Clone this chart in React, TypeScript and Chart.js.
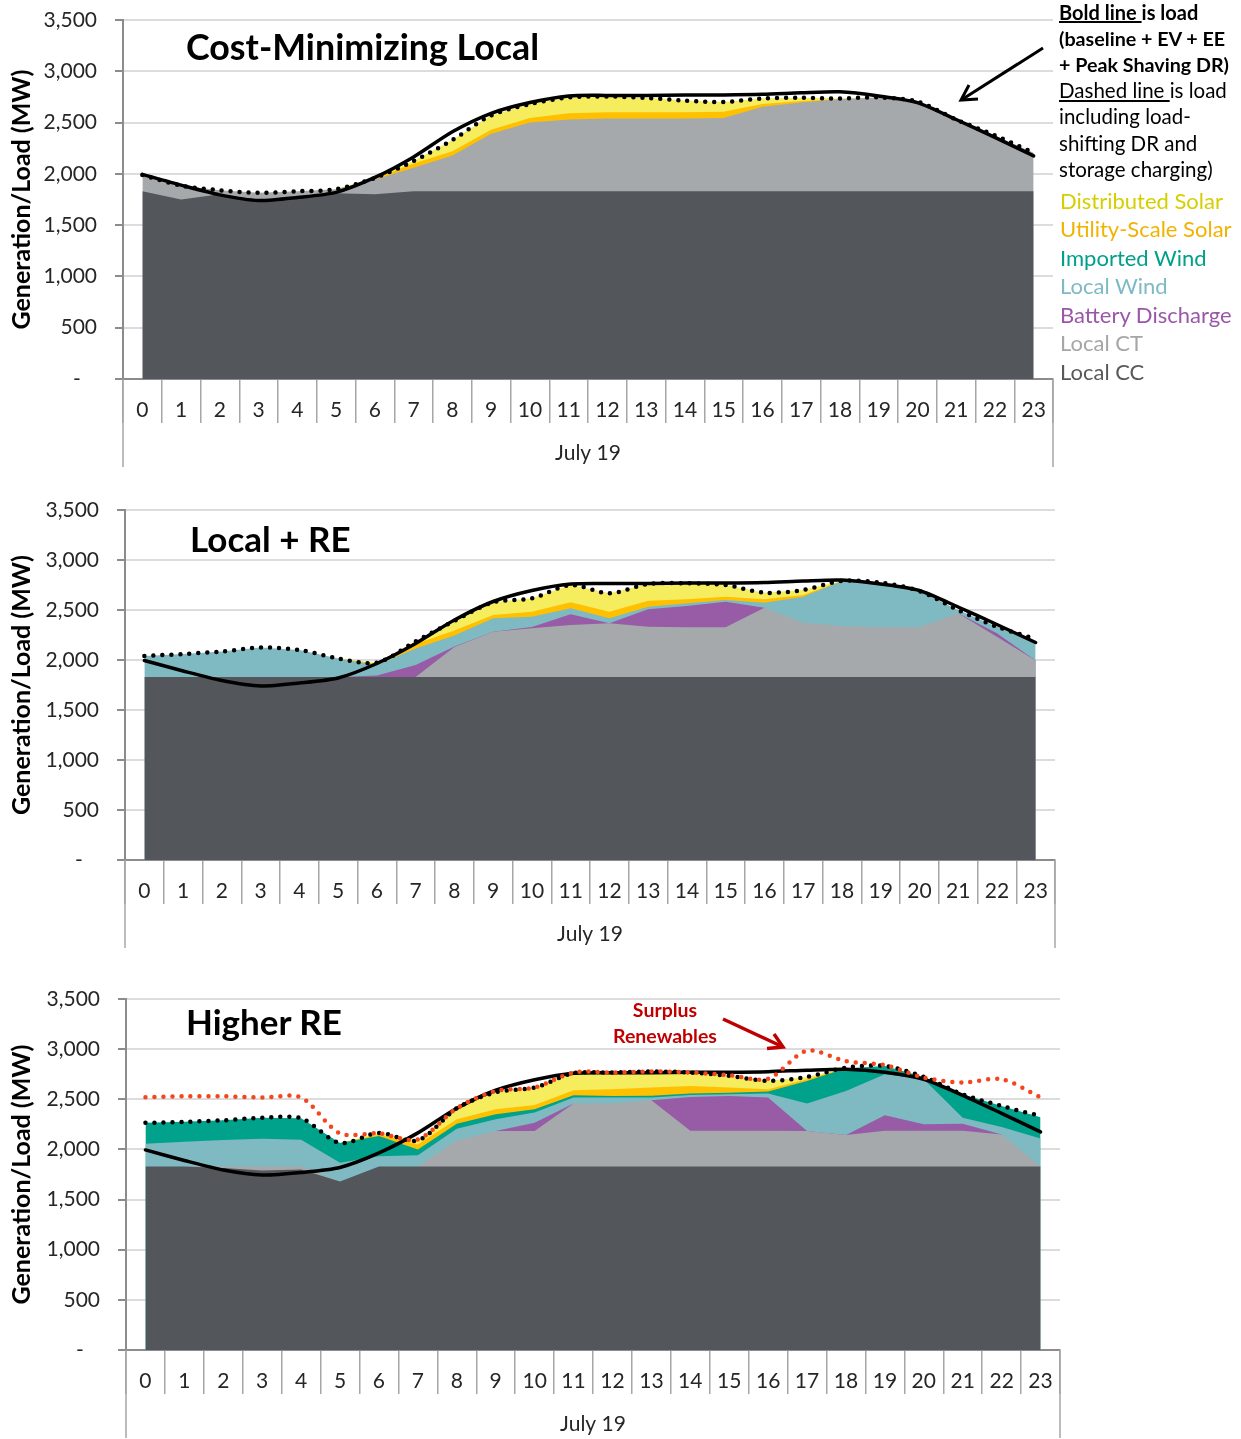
import React, { useEffect, useRef } from 'react';
import { Chart, registerables } from 'chart.js';

Chart.register(...registerables);
Chart.defaults.font.family = 'Lato';

// ---------- data ----------
const HOURS = ['0', '1', '2', '3', '4', '5', '6', '7', '8', '9', '10', '11', '12', '13', '14', '15', '16', '17', '18', '19', '20', '21', '22', '23'];
const Y_TICKS = [0, 500, 1000, 1500, 2000, 2500, 3000, 3500];
const X_TITLE = 'July 19';

// Panel 1: Cost-Minimizing Local
const P1_LOCAL_CC = [1830, 1750, 1800, 1745, 1770, 1810, 1800, 1830, 1830, 1830, 1830, 1830, 1830, 1830, 1830, 1830, 1830, 1830, 1830, 1830, 1830, 1830, 1830, 1830];
const P1_LOCAL_CT = [160, 135, 40, 70, 60, 40, 145, 230, 350, 560, 670, 700, 710, 710, 710, 715, 825, 865, 900, 915, 875, 700, 545, 375];
const P1_BATTERY = [0, 0, 0, 0, 0, 0, 0, 0, 0, 0, 0, 0, 0, 0, 0, 0, 0, 0, 0, 0, 0, 0, 0, 0];
const P1_LOCAL_WIND = [0, 0, 0, 0, 0, 0, 0, 0, 0, 0, 0, 0, 0, 0, 0, 0, 0, 0, 0, 0, 0, 0, 0, 0];
const P1_IMPORTED_WIND = [0, 0, 0, 0, 0, 0, 0, 0, 0, 0, 0, 0, 0, 0, 0, 0, 0, 0, 0, 0, 0, 0, 0, 0];
const P1_UTILITY_SOLAR = [0, 0, 0, 0, 0, 0, 10, 40, 40, 40, 45, 60, 60, 60, 60, 60, 25, 15, 0, 0, 0, 0, 0, 0];
const P1_DIST_SOLAR = [0, 0, 0, 0, 0, 0, 5, 25, 110, 140, 135, 155, 155, 140, 115, 95, 55, 32, 5, 0, 0, 0, 0, 0];
const P1_LOAD = [1995, 1890, 1795, 1740, 1770, 1820, 1965, 2165, 2410, 2590, 2695, 2760, 2765, 2765, 2770, 2770, 2775, 2790, 2800, 2760, 2695, 2530, 2355, 2175];
const P1_LOAD_SHIFTED = [1990, 1885, 1840, 1815, 1830, 1850, 1960, 2125, 2330, 2570, 2680, 2745, 2755, 2740, 2715, 2700, 2735, 2742, 2735, 2745, 2705, 2530, 2375, 2205];

// Panel 2: Local + RE
const P2_LOCAL_CC = [1830, 1830, 1830, 1830, 1830, 1830, 1830, 1830, 1830, 1830, 1830, 1830, 1830, 1830, 1830, 1830, 1830, 1830, 1830, 1830, 1830, 1830, 1830, 1830];
const P2_LOCAL_CT = [0, 0, 0, 0, 0, 0, 0, 0, 300, 453, 487, 520, 537, 503, 497, 497, 693, 543, 510, 497, 497, 637, 403, 165];
const P2_BATTERY = [0, 0, 0, 0, 0, 0, 15, 120, 5, 0, 13, 107, 0, 174, 213, 256, 0, 0, 0, 0, 0, 0, 34, 0];
const P2_LOCAL_WIND = [210, 230, 255, 295, 270, 185, 105, 165, 110, 134, 103, 60, 50, 26, 27, 17, 50, 260, 450, 446, 363, 33, 66, 175];
const P2_IMPORTED_WIND = [0, 0, 0, 0, 0, 0, 0, 0, 0, 0, 0, 0, 0, 0, 0, 0, 0, 0, 0, 0, 0, 0, 0, 0];
const P2_UTILITY_SOLAR = [0, 0, 0, 0, 0, 0, 10, 45, 50, 33, 50, 60, 66, 60, 40, 33, 34, 17, 0, 0, 0, 0, 0, 0];
const P2_DIST_SOLAR = [0, 0, 0, 0, 0, 0, 13, 25, 95, 127, 134, 173, 184, 167, 160, 117, 66, 50, 0, 0, 0, 0, 0, 0];
const P2_LOAD = [1995, 1890, 1795, 1740, 1770, 1820, 1965, 2165, 2400, 2585, 2695, 2760, 2765, 2765, 2770, 2770, 2775, 2790, 2800, 2760, 2695, 2530, 2355, 2175];
const P2_LOAD_SHIFTED = [2040, 2060, 2085, 2125, 2100, 2015, 1973, 2185, 2390, 2577, 2617, 2750, 2667, 2760, 2767, 2750, 2673, 2700, 2790, 2773, 2690, 2500, 2333, 2210];

// Panel 3: Higher RE
const P3_LOCAL_CC = [1830, 1830, 1815, 1790, 1800, 1680, 1830, 1830, 1830, 1830, 1830, 1830, 1830, 1830, 1830, 1830, 1830, 1830, 1830, 1830, 1830, 1830, 1830, 1830];
const P3_LOCAL_CT = [0, 0, 15, 40, 30, 0, 0, 0, 260, 353, 353, 627, 627, 660, 357, 357, 357, 353, 313, 357, 357, 357, 320, 0];
const P3_BATTERY = [0, 0, 0, 0, 0, 0, 0, 0, 0, 0, 84, 0, 0, 0, 336, 346, 330, 0, 0, 153, 63, 70, 0, 0];
const P3_LOCAL_WIND = [227, 247, 263, 277, 267, 187, 103, 113, 117, 117, 100, 60, 60, 27, 20, 17, 40, 274, 440, 410, 450, 60, 73, 280];
const P3_IMPORTED_WIND = [208, 198, 197, 208, 213, 198, 200, 57, 50, 50, 33, 23, 16, 18, 14, 15, 20, 226, 227, 83, 23, 233, 210, 210];
const P3_UTILITY_SOLAR = [0, 0, 0, 0, 0, 0, 17, 50, 43, 50, 43, 50, 67, 82, 76, 52, 23, 17, 0, 0, 0, 0, 0, 0];
const P3_DIST_SOLAR = [0, 0, 0, 0, 0, 0, 15, 40, 110, 170, 174, 170, 167, 160, 134, 116, 83, 23, 0, 0, 0, 0, 0, 0];
const P3_LOAD = [1995, 1890, 1795, 1745, 1770, 1820, 1965, 2165, 2410, 2590, 2695, 2760, 2765, 2765, 2770, 2770, 2775, 2790, 2800, 2770, 2700, 2540, 2360, 2175];
const P3_LOAD_SHIFTED = [2265, 2275, 2290, 2315, 2310, 2065, 2165, 2090, 2410, 2570, 2617, 2760, 2767, 2777, 2767, 2733, 2683, 2723, 2815, 2833, 2723, 2550, 2433, 2333];
const P3_SURPLUS = [2520, 2530, 2530, 2517, 2517, 2160, 2160, 2100, 2410, 2583, 2617, 2767, 2767, 2777, 2767, 2740, 2705, 2985, 2880, 2840, 2717, 2667, 2700, 2520];

// ---------- styles ----------
const C_CC = '#53575b';
const C_CT = '#a6a9ac';
const C_BATT = '#985ba6';
const C_LWIND = '#7fb9c2';
const C_IWIND = '#00a28b';
const C_USOLAR = '#ffc000';
const C_DSOLAR = '#f5ec5e';
const FONT = 'Lato';

type Series = {
  cc: number[]; ct: number[]; batt: number[]; lwind: number[]; iwind: number[];
  usolar: number[]; dsolar: number[]; load: number[]; shifted: number[]; surplus?: number[];
};

// A layer is hidden (null) at hours where it and both neighbours are zero,
// so empty layers do not paint anti-aliased slivers along other edges.
function maskEmpty(data: number[]): (number | null)[] {
  return data.map((v, i) => {
    const prev = i > 0 ? data[i - 1] : 0;
    const next = i < data.length - 1 ? data[i + 1] : 0;
    return v === 0 && prev === 0 && next === 0 ? null : v;
  });
}

function buildDatasets(s: Series): any[] {
  const layers: [string, number[], string][] = [
    ['Local CC', s.cc, C_CC],
    ['Local CT', s.ct, C_CT],
    ['Battery Discharge', s.batt, C_BATT],
    ['Local Wind', s.lwind, C_LWIND],
    ['Imported Wind', s.iwind, C_IWIND],
    ['Utility-Scale Solar', s.usolar, C_USOLAR],
    ['Distributed Solar', s.dsolar, C_DSOLAR],
  ];
  // Every stacked layer fills down to the origin; layers are painted top-first,
  // so each lower layer covers the one above it (no seams between areas).
  const ds: any[] = layers.map(([label, data, color]) => ({
    type: 'line',
    label,
    data: maskEmpty(data),
    backgroundColor: color,
    borderColor: 'rgba(0,0,0,0)',
    borderWidth: 0,
    pointRadius: 0,
    fill: 'origin',
    stack: 'generation',
    order: 10,
    tension: 0,
    spanGaps: false,
  }));
  ds.push({
    type: 'line', label: 'Load', data: s.load, borderColor: '#000000', borderWidth: 3.5,
    pointRadius: 0, fill: false, stack: 'load', order: 3, tension: 0.25, borderCapStyle: 'round', borderJoinStyle: 'round',
  });
  ds.push({
    type: 'line', label: 'Load incl. shifting', data: s.shifted, borderColor: '#000000', borderWidth: 4.5,
    borderDash: [0, 9], borderCapStyle: 'round', pointRadius: 0, fill: false, stack: 'shifted', order: 2, tension: 0.3,
  });
  if (s.surplus) {
    ds.push({
      type: 'line', label: 'Surplus Renewables', data: s.surplus, borderColor: '#f4461c', borderWidth: 4.5,
      borderDash: [0, 9], borderCapStyle: 'round', pointRadius: 0, fill: false, stack: 'surplus', order: 1, tension: 0.3,
    });
  }
  return ds;
}

const outerLines = {
  id: 'outerLines',
  afterDraw(chart: any) {
    const { ctx, chartArea } = chart;
    ctx.save();
    ctx.strokeStyle = '#a6a6a6';
    ctx.lineWidth = 1.5;
    ctx.beginPath();
    [chartArea.left, chartArea.right].forEach((x: number) => {
      ctx.moveTo(x, chartArea.bottom);
      ctx.lineTo(x, chartArea.bottom + 88);
    });
    ctx.stroke();
    ctx.restore();
  },
};

type PanelProps = {
  top: number; height: number; plotLeft: number; plotRight: number;
  plotTop: number; plotBottom: number; xTitlePad: number; series: Series;
};

function Panel(p: PanelProps) {
  const ref = useRef<HTMLCanvasElement>(null);
  useEffect(() => {
    const canvas = ref.current;
    if (!canvas) return;
    const chart = new Chart(canvas, {
      type: 'line',
      data: { labels: HOURS, datasets: buildDatasets(p.series) },
      plugins: [outerLines],
      options: {
        responsive: false,
        animation: false,
        devicePixelRatio: 1,
        events: [],
        layout: { padding: { top: p.plotTop, right: 1241 - p.plotRight, bottom: 0, left: 0 } },
        plugins: { legend: { display: false }, tooltip: { enabled: false } },
        scales: {
          x: {
            type: 'category',
            offset: true,
            grid: { display: true, offset: true, drawOnChartArea: false, drawTicks: true, tickLength: 44, color: '#a6a6a6', lineWidth: 1.5 },
            border: { display: true, color: '#8c8c8c', width: 2 },
            ticks: { padding: -25, autoSkip: false, maxRotation: 0, color: '#262626', font: { family: FONT, size: 21 } },
            title: { display: true, text: X_TITLE, color: '#262626', font: { family: FONT, size: 21 }, padding: { top: 0, bottom: p.xTitlePad } },
            afterFit: (s: any) => { s.height = p.height - p.plotBottom; s.paddingLeft = 0; s.paddingRight = 0; },
          },
          y: {
            stacked: true,
            min: 0,
            max: 3500,
            afterBuildTicks: (s: any) => { s.ticks = Y_TICKS.map((v) => ({ value: v })); },
            grid: { color: '#dcdcdc', lineWidth: 2, drawTicks: true, tickLength: 8, tickColor: '#8c8c8c' },
            border: { display: true, color: '#8c8c8c', width: 2 },
            ticks: {
              padding: 18,
              color: '#262626',
              font: { family: FONT, size: 21 },
              callback: (v: any) => (Number(v) === 0 ? '-   ' : Number(v).toLocaleString('en-US')),
            },
            title: { display: true, text: 'Generation/Load (MW)', color: '#000', font: { family: FONT, size: 25, weight: 'bold' }, padding: { top: 7, bottom: 0 } },
            afterFit: (s: any) => { s.width = p.plotLeft; s.paddingTop = 0; s.paddingBottom = 0; },
          },
        },
      } as any,
    });
    return () => chart.destroy();
  }, []);
  return (
    <canvas
      ref={ref}
      width={1241}
      height={p.height}
      style={{ position: 'absolute', left: 0, top: p.top, width: 1241, height: p.height, display: 'block' }}
    />
  );
}

function txt(left: number, cy: number, size: number, weight: any, color: string, extra: any = {}): React.CSSProperties {
  return {
    position: 'absolute', left, top: cy - size * 0.68, fontSize: size, lineHeight: `${size * 1.2}px`,
    fontWeight: weight, color, whiteSpace: 'nowrap', fontFamily: FONT, ...extra,
  };
}

const LEGEND_ITEMS: [string, string][] = [
  ['Distributed Solar', '#d6cf00'],
  ['Utility-Scale Solar', '#f2b200'],
  ['Imported Wind', '#00a08a'],
  ['Local Wind', '#7dbac5'],
  ['Battery Discharge', '#9a57a8'],
  ['Local CT', '#a6a6a6'],
  ['Local CC', '#595959'],
];
const LEGEND_Y = [203, 231, 260, 288, 317, 345, 374];

export default function App() {
  return (
    <div style={{ position: 'absolute', left: 0, top: 0, width: 1241, height: 1439, overflow: 'hidden', background: '#ffffff', fontFamily: FONT }}>
      <Panel top={0} height={470} plotLeft={123} plotRight={1053} plotTop={20} plotBottom={379} xTitlePad={4.4}
        series={{ cc: P1_LOCAL_CC, ct: P1_LOCAL_CT, batt: P1_BATTERY, lwind: P1_LOCAL_WIND, iwind: P1_IMPORTED_WIND, usolar: P1_UTILITY_SOLAR, dsolar: P1_DIST_SOLAR, load: P1_LOAD, shifted: P1_LOAD_SHIFTED }} />
      <Panel top={490} height={470} plotLeft={125} plotRight={1055} plotTop={20} plotBottom={370} xTitlePad={13.4}
        series={{ cc: P2_LOCAL_CC, ct: P2_LOCAL_CT, batt: P2_BATTERY, lwind: P2_LOCAL_WIND, iwind: P2_IMPORTED_WIND, usolar: P2_UTILITY_SOLAR, dsolar: P2_DIST_SOLAR, load: P2_LOAD, shifted: P2_LOAD_SHIFTED }} />
      <Panel top={979} height={460} plotLeft={126} plotRight={1060} plotTop={20} plotBottom={371} xTitlePad={2.4}
        series={{ cc: P3_LOCAL_CC, ct: P3_LOCAL_CT, batt: P3_BATTERY, lwind: P3_LOCAL_WIND, iwind: P3_IMPORTED_WIND, usolar: P3_UTILITY_SOLAR, dsolar: P3_DIST_SOLAR, load: P3_LOAD, shifted: P3_LOAD_SHIFTED, surplus: P3_SURPLUS }} />

      <div style={txt(186, 50, 35.8, 700, '#000')}>Cost-Minimizing Local</div>
      <div style={txt(190, 541, 35, 700, '#000')}>Local + RE</div>
      <div style={txt(186, 1024, 35, 700, '#000')}>Higher RE</div>

      <div style={txt(1059, 14, 20, 700, '#000')}><u>Bold line </u>is load</div>
      <div style={txt(1059, 40, 19.7, 700, '#000')}>(baseline + EV + EE</div>
      <div style={txt(1059, 66, 19.7, 700, '#000')}>+ Peak Shaving DR)</div>
      <div style={txt(1059, 92, 20.5, 400, '#000')}><u>Dashed line </u>is load</div>
      <div style={txt(1059, 118, 20.5, 400, '#000')}>including load-</div>
      <div style={txt(1059, 145, 20.5, 400, '#000')}>shifting DR and</div>
      <div style={txt(1059, 171, 20.5, 400, '#000')}>storage charging)</div>
      {LEGEND_ITEMS.map(([label, color], i) => (
        <div key={label} style={txt(1060, LEGEND_Y[i], 22, 400, color)}>{label}</div>
      ))}

      <div style={txt(665, 1011, 19.5, 700, '#c00000', { transform: 'translateX(-50%)' })}>Surplus</div>
      <div style={txt(665, 1037, 19.5, 700, '#c00000', { transform: 'translateX(-50%)' })}>Renewables</div>

      <svg width={1241} height={1439} style={{ position: 'absolute', left: 0, top: 0, pointerEvents: 'none' }}>
        <line x1={1043} y1={48} x2={962} y2={99.5} stroke="#000" strokeWidth={3} />
        <polyline points="978,99 961,100 969,85" fill="none" stroke="#000" strokeWidth={3} />
        <line x1={723} y1={1019} x2={781} y2={1046} stroke="#c00000" strokeWidth={3.5} />
        <polyline points="774,1034 783,1047 767,1048.5" fill="none" stroke="#c00000" strokeWidth={3.5} />
      </svg>
    </div>
  );
}
